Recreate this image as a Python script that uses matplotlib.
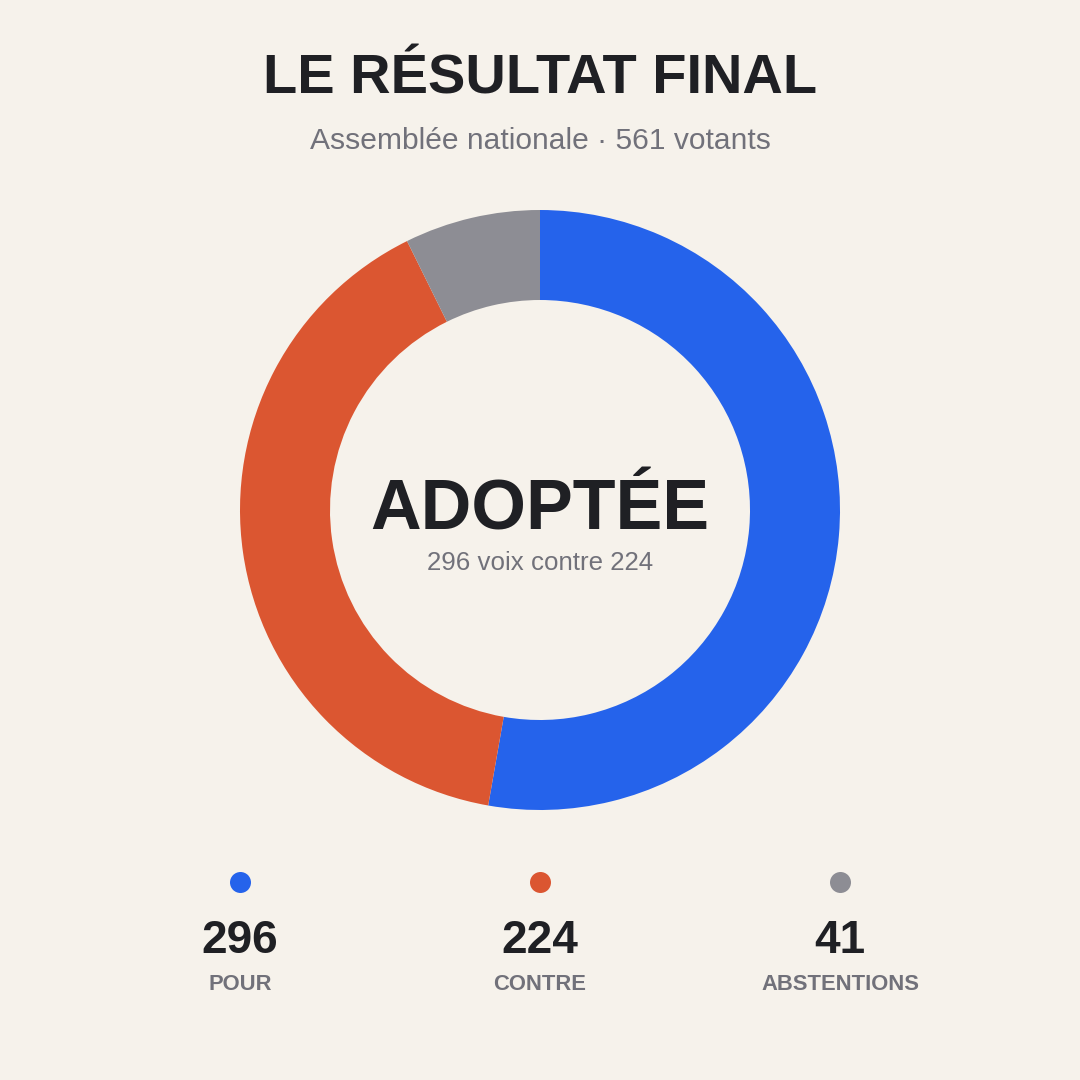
import matplotlib
matplotlib.use("Agg")
import matplotlib.pyplot as plt

labels = ["POUR", "CONTRE", "ABSTENTIONS"]
values = [296, 224, 41]
colors = ["#2563EB", "#DB5631", "#8D8D94"]
title = "LE RÉSULTAT FINAL"
subtitle = "Assemblée nationale · 561 votants"
center_title = "ADOPTÉE"
center_sub = "296 voix contre 224"

BG = "#F6F2EB"
DARK = "#1F2024"
GREY = "#71717A"

plt.rcParams['font.family'] = ['Liberation Sans', 'DejaVu Sans']

fig = plt.figure(figsize=(10.8, 10.8), dpi=100, facecolor=BG)
ax = fig.add_axes([0, 0, 1, 1])
ax.set_xlim(0, 1080)
ax.set_ylim(0, 1080)
ax.set_aspect('equal')
ax.axis('off')
ax.set_facecolor(BG)

def Y(y):
    return 1080 - y

ax.pie(values, colors=colors, startangle=90, counterclock=False,
       center=(540, Y(510)), radius=300,
       wedgeprops=dict(width=90, linewidth=0, antialiased=True))
ax.set_xlim(0, 1080)
ax.set_ylim(0, 1080)

ax.text(540, Y(93), title, ha='center', va='baseline', fontsize=40.3,
        fontweight='bold', color=DARK)
ax.text(540, Y(149), subtitle, ha='center', va='baseline', fontsize=21.6,
        color=GREY)
ax.text(540, Y(530), center_title, ha='center', va='baseline', fontsize=50.5,
        fontweight='bold', color=DARK)
ax.text(540, Y(570), center_sub, ha='center', va='baseline', fontsize=18.6,
        color=GREY)

xs = [240, 540, 840]
for x, lab, v, c in zip(xs, labels, values, colors):
    ax.scatter([x], [Y(882)], s=(21 * 0.72) ** 2, color=c, linewidths=0)
    ax.text(x, Y(953), str(v), ha='center', va='baseline', fontsize=33,
            fontweight='bold', color=DARK)
    ax.text(x, Y(990), lab, ha='center', va='baseline', fontsize=15.8,
            fontweight='bold', color=GREY)

fig.savefig("out.png", dpi=100, facecolor=BG)
